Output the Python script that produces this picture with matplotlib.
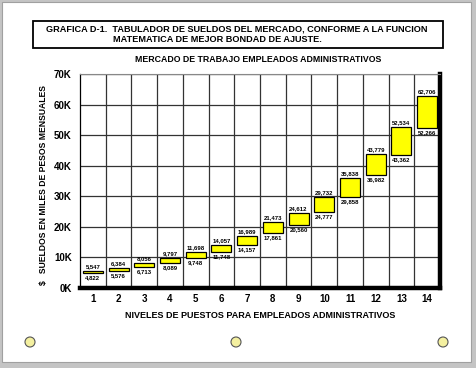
import matplotlib.pyplot as plt
from matplotlib.patches import Rectangle, Ellipse
from matplotlib.ticker import FixedLocator

plt.rcParams['font.family'] = ['Liberation Sans', 'DejaVu Sans']

levels = list(range(1, 15))
upper = [5547, 6384, 8056, 9797, 11698, 14057, 16989, 21473, 24612, 29732, 35838, 43779, 52534, 62706]
lower = [4822, 5576, 6713, 8089, 9748, 11748, 14157, 17861, 20560, 24777, 29858, 36982, 43362, 52266]
yticks = [0, 10000, 20000, 30000, 40000, 50000, 60000, 70000]
ylabels = ['0K', '10K', '20K', '30K', '40K', '50K', '60K', '70K']

W, H = 477, 368
fig = plt.figure(figsize=(W / 100, H / 100), dpi=100, facecolor='#c4c4c4')

# page card
fig.patches.append(Rectangle((2 / W, 6 / H), 469 / W, 360 / H, transform=fig.transFigure,
                             facecolor='white', edgecolor='#a0a0a0', lw=0.8, zorder=-5))

# title box
fig.patches.append(Rectangle((33 / W, 1 - 48 / H), 410 / W, 27 / H, transform=fig.transFigure,
                             facecolor='white', edgecolor='black', lw=1.3, zorder=1))
fig.text(46 / W, 1 - 29 / H, 'GRAFICA D-1.  TABULADOR DE SUELDOS DEL MERCADO, CONFORME A LA FUNCION',
         fontsize=6.6, fontweight='bold', va='center', ha='left')
fig.text(113 / W, 1 - 39.5 / H, 'MATEMATICA DE MEJOR BONDAD DE AJUSTE.',
         fontsize=6.6, fontweight='bold', va='center', ha='left')
fig.text(258 / W, 1 - 59 / H, 'MERCADO DE TRABAJO EMPLEADOS ADMINISTRATIVOS',
         fontsize=6.3, fontweight='bold', va='center', ha='center')

ax = fig.add_axes([80 / W, 1 - 288 / H, 360 / W, 214 / H], zorder=3)
heights = [u - l for u, l in zip(upper, lower)]
ax.bar(levels, heights, bottom=lower, width=0.78, color='#ffff00', edgecolor='black', lw=0.9, zorder=3)
for x, u, l in zip(levels, upper, lower):
    ax.annotate('{:,}'.format(u), (x, u), xytext=(0, 1.5), textcoords='offset points',
                ha='center', va='bottom', fontsize=4.3, fontweight='bold', zorder=4)
    ax.annotate('{:,}'.format(l), (x, l), xytext=(0, -1.5), textcoords='offset points',
                ha='center', va='top', fontsize=4.3, fontweight='bold', zorder=4)

ax.set_xlim(0.5, 14.5)
ax.set_ylim(0, 70000)
ax.set_xticks(levels)
ax.set_xticklabels([str(v) for v in levels], fontsize=7, fontweight='bold')
ax.xaxis.set_minor_locator(FixedLocator([v + 0.5 for v in levels[:-1]]))
ax.set_yticks(yticks)
ax.set_yticklabels(ylabels, fontsize=7, fontweight='bold')
ax.tick_params(axis='both', which='both', length=0)
ax.tick_params(axis='x', pad=4)
ax.tick_params(axis='y', pad=6)
ax.grid(axis='y', which='major', color='#333333', lw=0.9)
ax.grid(axis='x', which='minor', color='#333333', lw=0.9)
ax.set_axisbelow(True)

ax.spines['bottom'].set_linewidth(3.2)
ax.spines['right'].set_linewidth(3.2)
ax.spines['left'].set_linewidth(0.9)
ax.spines['top'].set_linewidth(0.8)
ax.spines['top'].set_color('#888888')

ax.set_xlabel('NIVELES DE PUESTOS PARA EMPLEADOS ADMINISTRATIVOS', fontsize=6.5, fontweight='bold', labelpad=5)
ax.set_ylabel('$   SUELDOS EN MILES DE PESOS MENSUALES', fontsize=6.2, fontweight='bold', labelpad=6)
ax.yaxis.set_label_coords(-0.09, 0.48)

# binder holes
for cx in [30, 236, 443]:
    fig.patches.append(Ellipse((cx / W, 1 - 342 / H), 10 / W, 10 / H, transform=fig.transFigure,
                               facecolor='#f4f0a0', edgecolor='#555555', lw=0.8, zorder=2))

fig.savefig('out.png', dpi=100, facecolor=fig.get_facecolor())
